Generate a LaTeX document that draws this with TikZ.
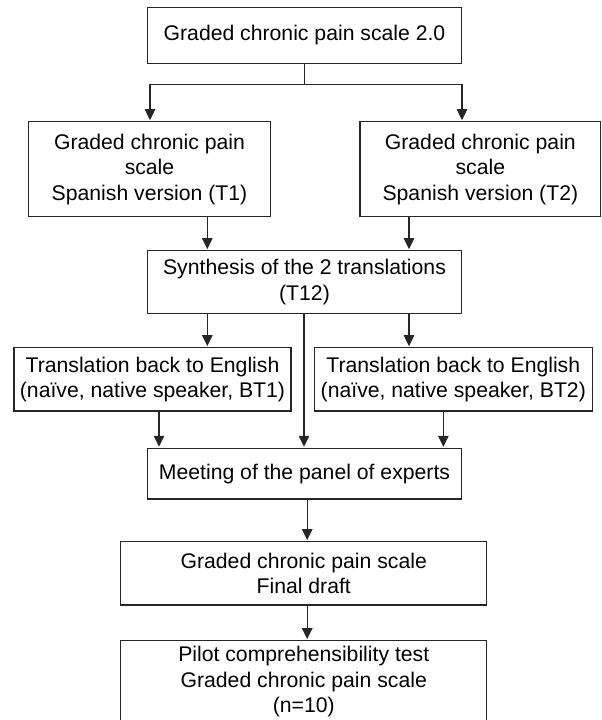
\documentclass[tikz,border=0pt]{standalone}
\usepackage{fontspec}
\setmainfont{Liberation Sans}
\usetikzlibrary{arrows.meta,calc}
\begin{document}
\begin{tikzpicture}[x=1pt,y=-1pt,
  box/.style={draw=black!85, line width=1.1pt, inner sep=0pt, align=center,
    font=\fontsize{21.2}{25.5}\selectfont, text=black},
  arr/.style={draw=black!85, line width=1.1pt, -{Triangle[length=11pt,width=10.5pt]}, shorten >=1pt},
  ln/.style={draw=black!85, line width=1.1pt}]
\useasboundingbox (0,0) rectangle (602,720);
\clip (0,0) rectangle (602,720);
% nodes
\node[box, minimum width=314.4pt, minimum height=56pt] (top) at (304.5,35.3) {Graded chronic pain scale 2.0};
\node[box, minimum width=242.4pt, minimum height=95pt] (t1) at (149.5,169.2) {Graded chronic pain\\scale\\Spanish version (T1)};
\node[box, minimum width=240.7pt, minimum height=95pt] (t2) at (480.35,169.2) {Graded chronic pain\\scale\\Spanish version (T2)};
\node[box, minimum width=314.4pt, minimum height=62.6pt] (syn) at (304.5,282) {Synthesis of the 2 translations\\(T12)};
\node[box, minimum width=277pt, minimum height=63.3pt] (bt1) at (152.5,379.35) {Translation back to English\\(naïve, native speaker, BT1)};
\node[box, minimum width=278pt, minimum height=63.3pt] (bt2) at (453.3,379.35) {Translation back to English\\(naïve, native speaker, BT2)};
\node[box, minimum width=314.4pt, minimum height=50.7pt] (meet) at (304.5,473.65) {Meeting of the panel of experts};
\node[box, minimum width=366pt, minimum height=63.3pt] (fin) at (303.75,573.35) {Graded chronic pain scale\\Final draft};
\node[box, minimum width=366pt, minimum height=82.6pt] (pilot) at (303.75,682) {Pilot comprehensibility test\\Graded chronic pain scale\\(n=10)};
% column coordinates
\coordinate (j) at (304.5,84.3);
\coordinate (xl) at (150,0);
\coordinate (xr) at (462,0);
\coordinate (xa) at (207.3,0);
\coordinate (xb) at (409,0);
\coordinate (xc) at (304,0);
\coordinate (xd) at (159,0);
\coordinate (xe) at (443.4,0);
\coordinate (xf) at (307.2,0);
% connectors
\draw[ln] (top.south) -- (j);
\draw[arr] (j) -| (t1.north -| xl);
\draw[arr] (j) -| (t2.north -| xr);
\draw[arr] (t1.south -| xa) -- (syn.north -| xa);
\draw[arr] (t2.south -| xb) -- (syn.north -| xb);
\draw[arr] (syn.south -| xa) -- (bt1.north -| xa);
\draw[arr] (syn.south -| xb) -- (bt2.north -| xb);
\draw[arr] (syn.south -| xc) -- (meet.north -| xc);
\draw[arr] (bt1.south -| xd) -- (meet.north -| xd);
\draw[arr] (bt2.south -| xe) -- (meet.north -| xe);
\draw[arr] (meet.south -| xf) -- (fin.north -| xf);
\draw[arr] (fin.south -| xf) -- (pilot.north -| xf);
\end{tikzpicture}
\end{document}
